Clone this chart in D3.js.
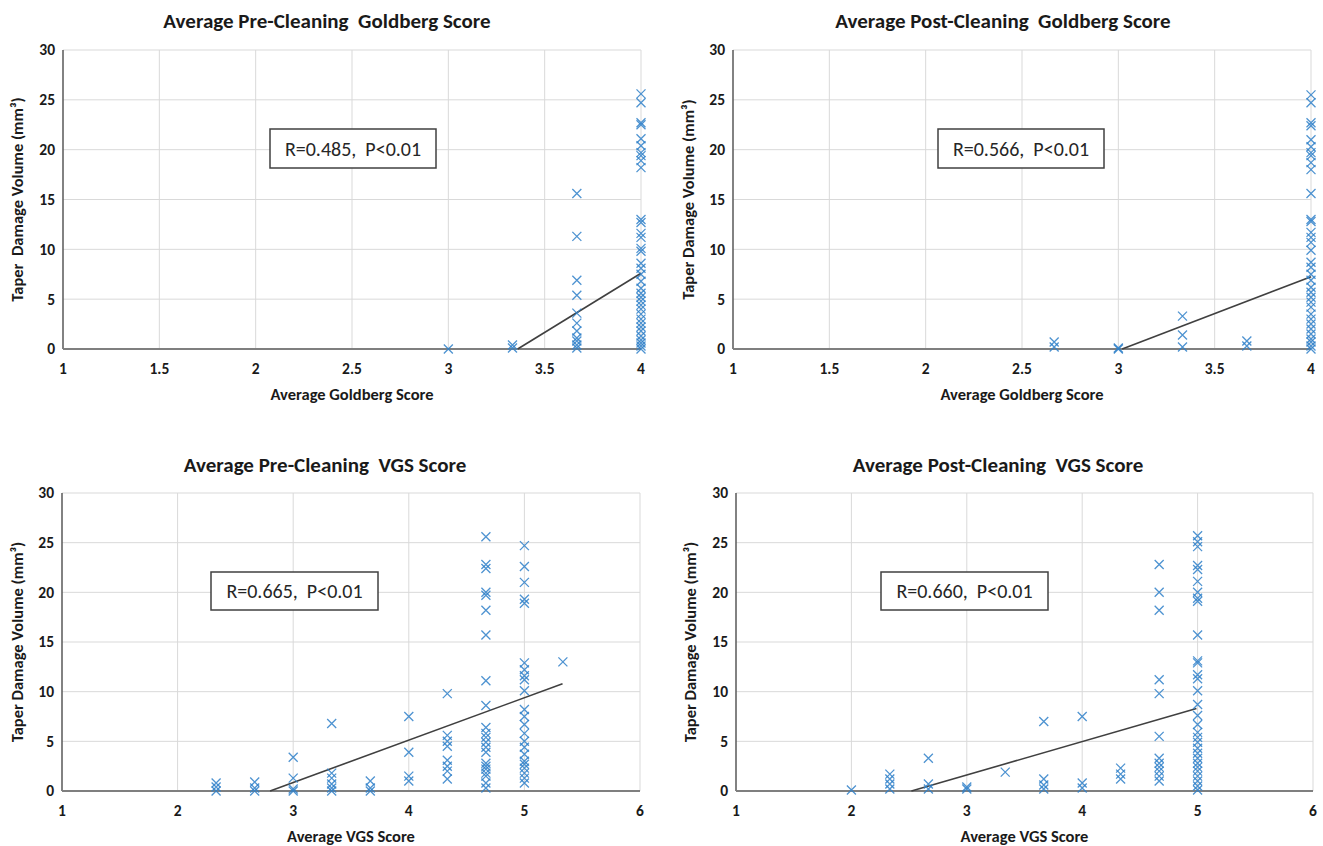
<!DOCTYPE html>
<html lang="en">
<head>
<meta charset="UTF-8">
<title>Taper Damage Volume vs Goldberg / VGS Score</title>
<script src="https://d3js.org/d3.v7.min.js"></script>
<style>
  body { margin: 0; background: #fff; }
  svg { display: block; font-family: "Carlito", "Lato", "Open Sans", sans-serif; }
  .grid line { stroke: #d9d9d9; stroke-width: 1; }
  .tick-label { font-size: 15.5px; font-weight: bold; fill: #1a1a1a; }
  .chart-title { font-size: 21px; font-weight: bold; fill: #1a1a1a; white-space: pre; }
  .axis-title { font-size: 16.5px; font-weight: bold; fill: #1a1a1a; white-space: pre; }
  .stat-box rect { fill: #fff; stroke: #404040; stroke-width: 1.5; }
  .stat-box text { font-size: 20px; fill: #262626; white-space: pre; }
  .marker { fill: none; stroke: #2f80c9; stroke-width: 1.3; stroke-opacity: 0.85; }
  .trend { fill: none; stroke: #404040; stroke-width: 1.6; }
</style>
</head>
<body>
<div id="chart"></div>
<script>
// ---- data (x = average score, y = taper damage volume mm³)
const yTicks = [0, 5, 10, 15, 20, 25, 30];
const goldbergTicks = [1, 1.5, 2, 2.5, 3, 3.5, 4];
const vgsTicks = [1, 2, 3, 4, 5, 6];

const preGoldbergScores = [3, 3.333, 3.667, 4];
const preGoldbergVolumes = [
  [0],
  [0.4, 0.1],
  [15.6, 11.3, 6.9, 5.4, 3.6, 2.6, 1.8, 1.1, 0.8, 0.4, 0.1],
  [25.6, 24.7, 22.7, 22.5, 21.1, 20.4, 19.7, 19.4, 18.9, 18.2, 13.0, 12.7, 11.6, 11.2,
   10.1, 9.8, 8.6, 8.1, 7.5, 6.8, 6.1, 5.6, 5.2, 4.8, 4.4, 4.0, 3.5, 3.0, 2.6, 2.2,
   1.8, 1.3, 0.9, 0.6, 0.3, 0]
];
const preGoldbergTrend = [[3.36, 0], [4, 7.6]];

const postGoldbergScores = [2.667, 3, 3.333, 3.667, 4];
const postGoldbergVolumes = [
  [0.7, 0.2],
  [0.1, 0],
  [3.3, 1.4, 0.2],
  [0.8, 0.3],
  [25.5, 24.7, 22.7, 22.4, 21.0, 20.3, 19.7, 19.4, 18.7, 18.0, 15.6, 13.0, 12.8, 11.7,
   11.2, 10.7, 9.9, 8.7, 8.2, 7.5, 6.9, 6.2, 5.7, 5.2, 4.7, 4.2, 3.5, 3.0, 2.5, 2.0,
   1.5, 1.0, 0.7, 0.3, 0]
];
const postGoldbergTrend = [[3.02, 0], [4, 7.25]];

const preVgsScores = [2.333, 2.667, 3, 3.333, 3.667, 4, 4.333, 4.667, 5, 5.333];
const preVgsVolumes = [
  [0.8, 0.4, 0],
  [0.9, 0.3, 0],
  [3.4, 1.3, 0.2, 0],
  [6.8, 1.8, 1.3, 0.7, 0.3, 0],
  [1.0, 0.3, 0],
  [7.5, 3.9, 1.5, 1.0],
  [9.8, 5.6, 5.0, 4.5, 3.1, 2.5, 2.0, 1.2],
  [25.6, 22.8, 22.4, 20.0, 19.7, 18.2, 15.7, 11.1, 8.6, 6.4, 5.8, 5.4, 4.9, 4.4, 3.9,
   2.8, 2.5, 2.2, 1.8, 1.5, 0.8, 0.3],
  [24.7, 22.6, 21.0, 19.3, 18.9, 12.9, 12.2, 11.6, 11.2, 10.1, 8.2, 7.5, 6.7, 5.8, 5.0,
   4.4, 3.7, 3.0, 2.7, 2.3, 1.8, 1.3, 0.8],
  [13.0]
];
const preVgsTrend = [[2.8, 0], [5.33, 10.8]];

const postVgsScores = [2, 2.333, 2.667, 3, 3.333, 3.667, 4, 4.333, 4.667, 5];
const postVgsVolumes = [
  [0.1],
  [1.7, 1.2, 0.7, 0.2],
  [3.3, 0.7, 0.2],
  [0.4, 0.2],
  [1.9],
  [7.0, 1.2, 0.6, 0.2],
  [7.5, 0.8, 0.3],
  [2.3, 1.7, 1.2],
  [22.8, 20.0, 18.2, 11.2, 9.8, 5.5, 3.3, 2.8, 2.4, 2.0, 1.5, 1.0],
  [25.7, 25.1, 24.6, 22.7, 22.3, 21.1, 20.0, 19.4, 19.1, 15.7, 13.1, 12.9, 11.7, 11.3,
   10.1, 8.7, 7.6, 6.7, 5.9, 5.4, 4.9, 4.3, 3.8, 3.3, 2.8, 2.4, 2.0, 1.5, 1.0, 0.5, 0.1]
];
const postVgsTrend = [[2.52, 0], [4.99, 8.3]];

const titles = [
  "Average Pre-Cleaning  Goldberg Score",
  "Average Post-Cleaning  Goldberg Score",
  "Average Pre-Cleaning  VGS Score",
  "Average Post-Cleaning  VGS Score"
];
const xTitles = ["Average Goldberg Score", "Average Goldberg Score", "Average VGS Score", "Average VGS Score"];
const yTitles = ["Taper  Damage Volume (mm³)", "Taper Damage Volume (mm³)",
                 "Taper Damage Volume (mm³)", "Taper Damage Volume (mm³)"];
const statLabels = ["R=0.485,  P<0.01", "R=0.566,  P<0.01", "R=0.665,  P<0.01", "R=0.660,  P<0.01"];

// ---- layout
const W = 1323, H = 846;
const panels = [
  { left: 63,  right: 641,  top: 50,  bottom: 349, xDomain: [1, 4], xTicks: goldbergTicks,
    scores: preGoldbergScores, volumes: preGoldbergVolumes, trend: preGoldbergTrend,
    box: [270, 129, 166, 39], titleX: 327, titleY: 28, yTitleX: 23 },
  { left: 733, right: 1311, top: 50,  bottom: 349, xDomain: [1, 4], xTicks: goldbergTicks,
    scores: postGoldbergScores, volumes: postGoldbergVolumes, trend: postGoldbergTrend,
    box: [938, 129, 166, 39], titleX: 1003, titleY: 28, yTitleX: 694 },
  { left: 62,  right: 640,  top: 493, bottom: 791, xDomain: [1, 6], xTicks: vgsTicks,
    scores: preVgsScores, volumes: preVgsVolumes, trend: preVgsTrend,
    box: [211, 572, 167, 38], titleX: 325, titleY: 472, yTitleX: 23 },
  { left: 736, right: 1313, top: 493, bottom: 791, xDomain: [1, 6], xTicks: vgsTicks,
    scores: postVgsScores, volumes: postVgsVolumes, trend: postVgsTrend,
    box: [881, 572, 167, 38], titleX: 998, titleY: 472, yTitleX: 696 }
];

const svg = d3.select("#chart").append("svg")
  .attr("width", W)
  .attr("height", H);

panels.forEach((p, i) => {
  const x = d3.scaleLinear().domain(p.xDomain).range([p.left, p.right]);
  const y = d3.scaleLinear().domain([0, 30]).range([p.bottom, p.top]);
  const g = svg.append("g");

  // gridlines
  const grid = g.append("g").attr("class", "grid");
  grid.selectAll(".v").data(p.xTicks.slice(1)).enter().append("line")
    .attr("x1", d => x(d)).attr("x2", d => x(d))
    .attr("y1", p.top).attr("y2", p.bottom);
  grid.selectAll(".h").data(yTicks.slice(1)).enter().append("line")
    .attr("x1", p.left).attr("x2", p.right)
    .attr("y1", d => y(d)).attr("y2", d => y(d));

  // axis lines
  g.append("line")
    .attr("x1", p.left).attr("x2", p.left)
    .attr("y1", p.top).attr("y2", p.bottom)
    .attr("stroke", "#595959").attr("stroke-width", 1.5);
  g.append("line")
    .attr("x1", p.left).attr("x2", p.right)
    .attr("y1", y(0)).attr("y2", y(0))
    .attr("stroke", "#7f7f7f").attr("stroke-width", 2);

  // tick labels
  g.selectAll(".yl").data(yTicks).enter().append("text")
    .attr("class", "tick-label")
    .attr("x", p.left - 8)
    .attr("y", d => y(d))
    .attr("dy", "0.35em")
    .attr("text-anchor", "end")
    .text(d => d);
  g.selectAll(".xl").data(p.xTicks).enter().append("text")
    .attr("class", "tick-label")
    .attr("x", d => x(d))
    .attr("y", p.bottom + 25)
    .attr("text-anchor", "middle")
    .text(d => d);

  // titles
  g.append("text")
    .attr("class", "chart-title")
    .attr("x", p.titleX).attr("y", p.titleY)
    .attr("text-anchor", "middle")
    .text(titles[i]);
  g.append("text")
    .attr("class", "axis-title")
    .attr("x", (p.left + p.right) / 2).attr("y", p.bottom + 51)
    .attr("text-anchor", "middle")
    .text(xTitles[i]);
  g.append("text")
    .attr("class", "axis-title")
    .attr("transform", `translate(${p.yTitleX},${(p.top + p.bottom) / 2}) rotate(-90)`)
    .attr("text-anchor", "middle")
    .text(yTitles[i]);

  // trend line
  g.append("path")
    .attr("class", "trend")
    .attr("d", d3.line().x(d => x(d[0])).y(d => y(d[1]))(p.trend));

  // points
  const pts = [];
  p.scores.forEach((s, k) => p.volumes[k].forEach(v => pts.push([s, v])));
  g.selectAll(".marker").data(pts).enter().append("path")
    .attr("class", "marker")
    .attr("transform", d => `translate(${x(d[0])},${y(d[1])})`)
    .attr("d", "M-4.5,-4.5L4.5,4.5M-4.5,4.5L4.5,-4.5");

  // stats box
  const b = g.append("g").attr("class", "stat-box");
  b.append("rect")
    .attr("x", p.box[0]).attr("y", p.box[1])
    .attr("width", p.box[2]).attr("height", p.box[3]);
  b.append("text")
    .attr("x", p.box[0] + p.box[2] / 2)
    .attr("y", p.box[1] + p.box[3] / 2)
    .attr("dy", "0.35em")
    .attr("text-anchor", "middle")
    .text(statLabels[i]);
});
</script>
</body>
</html>
